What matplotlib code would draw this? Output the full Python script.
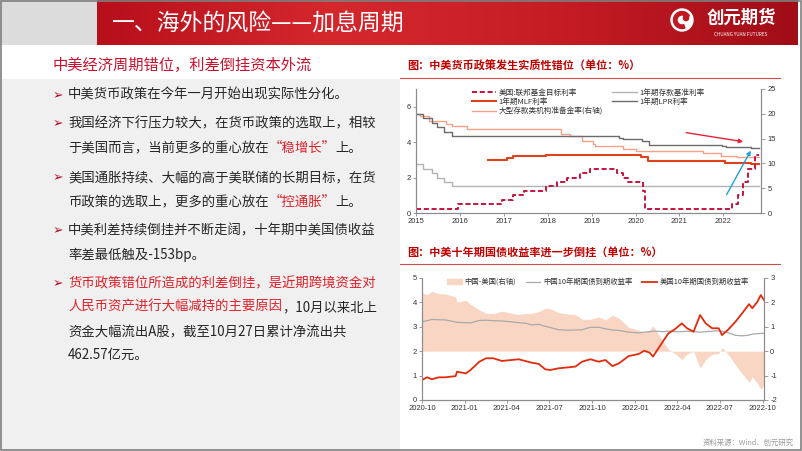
import numpy as np
import matplotlib
matplotlib.use("Agg")
import matplotlib.pyplot as plt
import matplotlib.dates as mdates
from matplotlib.patches import Rectangle, Circle, Wedge, Patch
from matplotlib.lines import Line2D
from matplotlib.colors import LinearSegmentedColormap

plt.rcParams['font.family'] = ['Noto Sans CJK SC', 'DejaVu Sans']
plt.rcParams['axes.unicode_minus'] = False

W, H = 802, 451

# ---------------- text content ----------------
slide_title = "一、海外的风险——加息周期"
section_title = "中美经济周期错位，利差倒挂资本外流"
chart1_title = "图：中美货币政策发生实质性错位（单位：%）"
chart2_title = "图：中美十年期国债收益率进一步倒挂（单位：%）"
source_text = "资料来源：Wind、创元研究"

RED_TXT = '#e0202a'
BLK_TXT = '#262626'
# each line: (has_bullet, [(text, color), ...])
bullet_lines = [
    (True, [("中美货币政策在今年一月开始出现实际性分化。", BLK_TXT)]),
    (True, [("我国经济下行压力较大，在货币政策的选取上，相较", BLK_TXT)]),
    (False, [("于美国而言，当前更多的重心放在", BLK_TXT), ("“稳增长”", RED_TXT), ("上。", BLK_TXT)]),
    (True, [("美国通胀持续、大幅的高于美联储的长期目标，在货", BLK_TXT)]),
    (False, [("币政策的选取上，更多的重心放在", BLK_TXT), ("“控通胀”", RED_TXT), ("上。", BLK_TXT)]),
    (True, [("中美利差持续倒挂并不断走阔，十年期中美国债收益", BLK_TXT)]),
    (False, [("率差最低触及-153bp。", BLK_TXT)]),
    (True, [("货币政策错位所造成的利差倒挂，是近期跨境资金对", RED_TXT)]),
    (False, [("人民币资产进行大幅减持的主要原因", RED_TXT), ("，10月以来北上", BLK_TXT)]),
    (False, [("资金大幅流出A股，截至10月27日累计净流出共", BLK_TXT)]),
    (False, [("462.57亿元。", BLK_TXT)]),
]
bullet_y = [95, 123, 148, 177, 202, 230, 255, 283, 307, 332, 355]

# ---------------- chart 1 data (step series) ----------------
fed_dates = ["2015-01-01", "2015-12-17", "2016-12-15", "2017-03-16", "2017-06-15", "2017-12-14",
             "2018-03-22", "2018-06-14", "2018-09-27", "2018-12-20", "2019-08-01", "2019-09-19",
             "2019-10-31", "2020-03-04", "2020-03-16", "2022-03-17", "2022-05-05", "2022-06-16",
             "2022-07-28", "2022-09-22", "2022-10-27"]
fed_rate = [0.25, 0.5, 0.75, 1.0, 1.25, 1.5, 1.75, 2.0, 2.25, 2.5, 2.25, 2.0,
            1.75, 1.25, 0.25, 0.5, 1.0, 1.75, 2.5, 3.25, 3.25]

dep_dates = ["2015-01-01", "2015-03-01", "2015-05-11", "2015-06-28", "2015-08-26", "2015-10-24", "2022-10-27"]
dep_rate = [2.75, 2.5, 2.25, 2.0, 1.75, 1.5, 1.5]

lpr_dates = ["2015-01-01", "2015-03-01", "2015-05-11", "2015-06-28", "2015-08-26", "2015-10-24",
             "2019-08-20", "2019-09-20", "2019-11-20", "2020-02-20", "2020-04-20", "2021-12-20",
             "2022-01-20", "2022-08-22", "2022-10-27"]
lpr_rate = [5.6, 5.35, 5.1, 4.85, 4.6, 4.35, 4.25, 4.2, 4.15, 4.05, 3.85, 3.8, 3.7, 3.65, 3.65]

mlf_dates = ["2016-08-25", "2017-01-24", "2017-03-16", "2017-12-14", "2018-03-22", "2019-11-05",
             "2020-02-17", "2020-04-15", "2022-01-17", "2022-08-15", "2022-10-27"]
mlf_rate = [3.0, 3.1, 3.2, 3.25, 3.3, 3.25, 3.15, 2.95, 2.85, 2.75, 2.75]

rrr_dates = ["2015-01-01", "2015-02-05", "2015-04-20", "2015-09-06", "2015-10-24", "2016-03-01",
             "2018-04-25", "2018-07-05", "2018-10-15", "2019-01-15", "2019-01-25", "2019-09-16",
             "2020-01-06", "2021-07-15", "2021-12-15", "2022-04-25", "2022-10-27"]
rrr_rate = [20, 19.5, 18.5, 18, 17.5, 17, 16, 15.5, 14.5, 14, 13.5, 13, 12.5, 12, 11.5, 11.25, 11.25]

year_ticks = ["2015", "2016", "2017", "2018", "2019", "2020", "2021", "2022"]

# ---------------- chart 2 data ----------------
bond_dates = ["2020-10-01", "2020-10-12", "2020-10-22", "2020-11-06", "2020-11-20", "2020-12-12",
              "2020-12-15", "2021-01-03", "2021-01-13", "2021-02-01", "2021-02-15", "2021-03-03",
              "2021-03-21", "2021-04-11", "2021-04-26", "2021-05-10", "2021-05-24", "2021-06-08",
              "2021-06-22", "2021-07-03", "2021-07-21", "2021-08-11", "2021-08-26", "2021-09-09",
              "2021-09-27", "2021-10-15", "2021-10-29", "2021-11-13", "2021-11-27", "2021-12-18",
              "2022-01-09", "2022-01-20", "2022-02-01", "2022-02-08", "2022-02-15", "2022-03-01",
              "2022-03-13", "2022-03-27", "2022-04-11", "2022-04-22", "2022-05-06", "2022-05-20",
              "2022-06-01", "2022-06-15", "2022-06-29", "2022-07-06", "2022-07-20", "2022-08-04",
              "2022-08-18", "2022-09-02", "2022-09-09", "2022-09-20", "2022-09-27", "2022-10-04"]
us10y = [0.82, 0.93, 0.85, 0.93, 0.93, 0.98, 1.16, 1.09, 1.23, 1.57, 1.71, 1.71, 1.6, 1.64, 1.67,
         1.6, 1.53, 1.48, 1.26, 1.23, 1.3, 1.34, 1.37, 1.57, 1.67, 1.57, 1.64, 1.39, 1.5, 1.8,
         1.89, 2.02, 1.94, 1.78, 1.98, 2.39, 2.73, 2.9, 3.14, 2.94, 2.8, 3.48, 3.14, 2.94, 2.94,
         2.66, 2.9, 3.21, 3.55, 3.93, 3.76, 4.03, 4.3, 4.1]
cn10y = [3.21, 3.25, 3.3, 3.29, 3.28, 3.2, 3.18, 3.17, 3.16, 3.26, 3.27, 3.25, 3.24, 3.2, 3.17,
         3.15, 3.08, 3.1, 3.02, 2.97, 2.88, 2.86, 2.87, 2.88, 2.98, 2.98, 2.92, 2.87, 2.85, 2.78,
         2.75, 2.78, 2.8, 2.82, 2.82, 2.8, 2.82, 2.8, 2.8, 2.82, 2.8, 2.78, 2.8, 2.82, 2.84,
         2.82, 2.75, 2.65, 2.63, 2.66, 2.7, 2.72, 2.73, 2.73]
quarter_ticks = ["2020-10", "2021-01", "2021-04", "2021-07", "2021-10", "2022-01", "2022-04", "2022-07", "2022-10"]


def d(lst):
    return np.array(lst, dtype='datetime64[D]')


fig = plt.figure(figsize=(W / 100, H / 100), dpi=100)

# ---------------- slide background ----------------
bg = fig.add_axes([0, 0, 1, 1])
bg.set_xlim(0, W)
bg.set_ylim(H, 0)
bg.axis('off')

bg.add_patch(Rectangle((0, 0), 97, 45, color='#dcdcdc', lw=0))
grad = np.linspace(0, 1, 256).reshape(1, -1)
hdr_cmap = LinearSegmentedColormap.from_list('hdr', ['#b70f1b', '#d4282d', '#c51c24', '#a00d17'])
bg.imshow(grad, extent=(97, 798, 45, 0), cmap=hdr_cmap, aspect='auto', zorder=1)
bg.text(112, 24, slide_title, color='white', fontsize=16.5, va='center', ha='left', zorder=3)

# logo
bg.add_patch(Circle((682, 20), 11, color='white', zorder=3))
bg.add_patch(Wedge((682, 20), 8.5, 70, 330, width=3.5, color='#c01822', zorder=4))
bg.add_patch(Circle((686, 18), 2.6, color='#c01822', zorder=4))
bg.text(741, 18, "创元期货", color='white', fontsize=12.5, fontweight='bold', ha='center', va='center', zorder=3)
bg.text(741, 34, "CHUANG YUAN FUTURES", color='white', fontsize=3.3, ha='center', va='center', zorder=3)

# left panel
bg.add_patch(Rectangle((0, 79), 400, H - 79, color='#f0f0f0', lw=0))
bg.text(53, 65, section_title, color='#c8102e', fontsize=11, va='center', ha='left')


def rich_line(x, y, parts, size=9.6):
    t = None
    for s, c in parts:
        if t is None:
            t = bg.text(x, y, s, color=c, fontsize=size, va='center', ha='left')
        else:
            t = bg.annotate(s, xy=(1, 0.5), xycoords=t, color=c, fontsize=size, va='center', ha='left')
    return t


for (has_b, parts), yy in zip(bullet_lines, bullet_y):
    if has_b:
        bg.text(53, yy + 0.5, "➢", color='#b00c26', fontsize=9, va='center', ha='left',
                family=['DejaVu Sans'])
    rich_line(68, yy, parts)

# right panel titles
bg.text(407, 66, chart1_title, color='#c00000', fontsize=8, fontweight='bold', va='center', ha='left')
bg.plot([400, 780], [78, 78], color='#d44a4a', lw=0.8)
bg.text(407, 252, chart2_title, color='#c00000', fontsize=8, fontweight='bold', va='center', ha='left')
bg.plot([400, 780], [264, 264], color='#d44a4a', lw=0.8)
bg.text(794, 443, source_text, color='#9a9a9a', fontsize=5.3, va='center', ha='right')

# slide frame
bg.add_patch(Rectangle((0.5, 0.5), W - 1.5, H - 1.5, fill=False, ec='#7f7f7f', lw=1.2, zorder=5))
bg.set_xlim(0, W)
bg.set_ylim(H, 0)

TICK_FAMILY = ['Liberation Sans', 'DejaVu Sans']


def style_axes(ax, axr):
    for a in (ax, axr):
        a.spines['top'].set_visible(False)
        for s in ('left', 'right', 'bottom'):
            a.spines[s].set_color('#8c8c8c')
            a.spines[s].set_linewidth(0.8)
        a.tick_params(labelsize=5.5, colors='#8c8c8c', labelcolor='#333333', length=2, width=0.6, pad=1.5)
        for lab in a.get_xticklabels() + a.get_yticklabels():
            lab.set_fontfamily(TICK_FAMILY)
    axr.tick_params(axis='y', length=3)


# ---------------- chart 1 ----------------
ax1 = fig.add_axes([416 / W, 1 - 213 / H, 345 / W, 124 / H])
ax1r = ax1.twinx()
ax1.set_zorder(ax1r.get_zorder() + 1)
ax1.patch.set_visible(False)

h_rrr, = ax1r.plot(d(rrr_dates), rrr_rate, drawstyle='steps-post', color='#f5a188', lw=1.0,
                   label="大型存款类机构准备金率(右轴)")
h_dep, = ax1.plot(d(dep_dates), dep_rate, drawstyle='steps-post', color='#b3b3b3', lw=1.0,
                  label="1年期存款基准利率")
h_lpr, = ax1.plot(d(lpr_dates), lpr_rate, drawstyle='steps-post', color='#6b6b6b', lw=1.0,
                  label="1年期LPR利率")
h_mlf, = ax1.plot(d(mlf_dates), mlf_rate, drawstyle='steps-post', color='#e0401a', lw=1.5,
                  label="1年期MLF利率")
h_fed, = ax1.plot(d(fed_dates), fed_rate, drawstyle='steps-post', color='#c4143e', lw=1.4,
                  dashes=(2.6, 1.4), label="美国:联邦基金目标利率")

xl1 = mdates.date2num(d(["2015-01-01", "2022-11-10"]))
ax1.set_xlim(xl1[0], xl1[1])
ax1.set_ylim(0, 7)
ax1r.set_ylim(0, 25)
ax1.set_yticks([0, 2, 4, 6])
ax1r.set_yticks([0, 5, 10, 15, 20, 25])
ax1.set_xticks(mdates.date2num(d([y + "-01-01" for y in year_ticks])))
ax1.set_xticklabels(year_ticks)
style_axes(ax1, ax1r)

# trend arrows
ax1.annotate('', xy=(mdates.date2num(np.datetime64("2022-07-08")), 4.0),
             xytext=(mdates.date2num(np.datetime64("2021-02-03")), 4.56),
             arrowprops=dict(arrowstyle='-|>', color='#e8203a', lw=1.0, mutation_scale=6))
ax1.annotate('', xy=(mdates.date2num(np.datetime64("2022-08-28")), 3.66),
             xytext=(mdates.date2num(np.datetime64("2022-01-17")), 0.9),
             arrowprops=dict(arrowstyle='-|>', color='#1fa0dc', lw=1.0, mutation_scale=6))

leg1 = ax1.legend(handles=[h_fed, h_mlf, h_rrr, h_dep, h_lpr], ncol=2, loc='upper left',
                  bbox_to_anchor=(472 / W, 1 - 89 / H), bbox_transform=fig.transFigure,
                  frameon=False, fontsize=5.5, handlelength=3.2, handletextpad=0.3,
                  columnspacing=1.2, labelspacing=0.15, borderpad=0, borderaxespad=0)
for t in leg1.get_texts():
    t.set_color('#333333')

# ---------------- chart 2 ----------------
ax2 = fig.add_axes([422 / W, 1 - 400 / H, 342 / W, 122 / H])
ax2r = ax2.twinx()
ax2.set_zorder(ax2r.get_zorder() + 1)
ax2.patch.set_visible(False)

bd = d(bond_dates)
spread = np.array(cn10y) - np.array(us10y)
ax2r.fill_between(bd, 0, spread, color='#f9d6c4', lw=0)
ax2.plot(bd, cn10y, color='#a9a9a9', lw=0.9)
ax2.plot(bd, us10y, color='#e22b0c', lw=1.3)

xl2 = mdates.date2num(d(["2020-10-01", "2022-10-04"]))
ax2.set_xlim(xl2[0], xl2[1])
ax2.set_ylim(0, 5)
ax2r.set_ylim(-2, 3)
ax2.set_yticks([0, 1, 2, 3, 4, 5])
ax2r.set_yticks([-2, -1, 0, 1, 2, 3])
ax2.set_xticks(mdates.date2num(d([q + "-01" for q in quarter_ticks])))
ax2.set_xticklabels(quarter_ticks)
style_axes(ax2, ax2r)

leg2_handles = [Patch(color='#f9d6c4', label="中国-美国(右轴)"),
                Line2D([], [], color='#a9a9a9', lw=0.9, label="中国10年期国债到期收益率"),
                Line2D([], [], color='#e22b0c', lw=1.3, label="美国10年期国债到期收益率")]
leg2 = ax2.legend(handles=leg2_handles, ncol=3, loc='upper left',
                  bbox_to_anchor=(447 / W, 1 - 278 / H), bbox_transform=fig.transFigure,
                  frameon=False, fontsize=5.3, handlelength=2.0, handleheight=0.6, handletextpad=0.4,
                  columnspacing=1.3, borderpad=0, borderaxespad=0)
for t in leg2.get_texts():
    t.set_color('#333333')

fig.savefig('out.png', dpi=100)
